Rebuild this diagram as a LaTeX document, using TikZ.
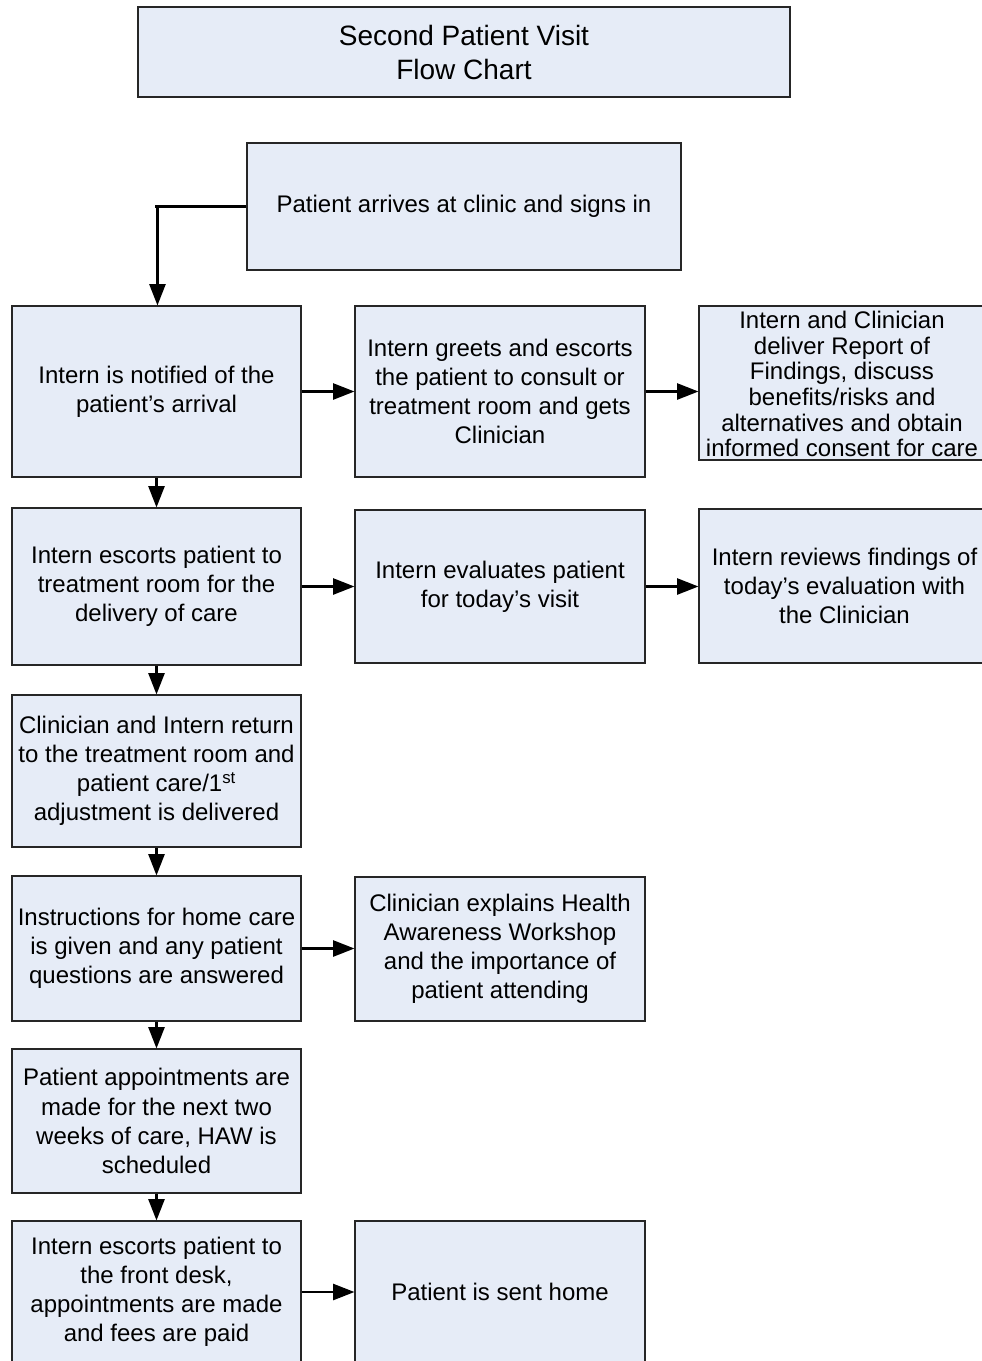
\documentclass[tikz,border=0pt]{standalone}
\usepackage{fontspec}
\setmainfont{Liberation Sans}
\usetikzlibrary{arrows.meta,calc}
\definecolor{boxfill}{HTML}{E6ECF7}
\definecolor{boxline}{HTML}{262626}
\newcommand{\flowbox}[6]{%
  \node[fbox, minimum width={(#4-#2)*0.75pt}, minimum height={(#5-#3)*0.75pt}] (#1) at ({(#2+#4)/2},{(#3+#5)/2}) {#6};}
\begin{document}
\begin{tikzpicture}[x=0.75pt,y=-0.75pt,
  fbox/.style={draw=boxline, line width=0.8pt, fill=boxfill, inner sep=0pt, align=center,
     font=\fontsize{18}{21.8}\selectfont},
  ftext/.style={inner sep=0pt, align=center, font=\fontsize{18}{19.2}\selectfont},
  titlebox/.style={fbox, font=\fontsize{21}{25.5}\selectfont},
  arr/.style={line width=1.8pt, -{Triangle[length=16pt,width=12pt]}},
  conn/.style={line width=1.8pt}]
\useasboundingbox (0,0) rectangle (982,1361);
\clip (0,0) rectangle (982,1361);
\node[titlebox, minimum width={652*0.75pt}, minimum height={90*0.75pt}] (title) at (464,52) {Second Patient Visit\\Flow Chart};
\flowbox{arrive}{247}{143}{681}{270}{Patient arrives at clinic and signs in}
\flowbox{b1}{12}{306}{301}{477}{Intern is notified of the\\patient’s arrival}
\flowbox{b2}{355}{306}{645}{477}{Intern greets and escorts\\the patient to consult or\\treatment room and gets\\Clinician}
\flowbox{b3}{699}{306}{995}{460}{}
\node[ftext, anchor=north] (b3t) at (842,311) {Intern and Clinician\\deliver Report of\\Findings, discuss\\benefits/risks and\\alternatives and obtain\\informed consent for care};
\flowbox{c1}{12}{508}{301}{665}{Intern escorts patient to\\treatment room for the\\delivery of care}
\flowbox{c2}{355}{510}{645}{663}{Intern evaluates patient\\for today’s visit}
\flowbox{c3}{699}{509}{990}{663}{Intern reviews findings of\\today’s evaluation with\\the Clinician}
\flowbox{d1}{12}{695}{301}{847}{Clinician and Intern return\\to the treatment room and\\patient care/1\textsuperscript{st}\\adjustment is delivered}
\flowbox{e1}{12}{876}{301}{1021}{Instructions for home care\\is given and any patient\\questions are answered}
\flowbox{e2}{355}{877}{645}{1021}{Clinician explains Health\\Awareness Workshop\\and the importance of\\patient attending}
\flowbox{f1}{12}{1049}{301}{1193}{Patient appointments are\\made for the next two\\weeks of care, HAW is\\scheduled}
\flowbox{g1}{12}{1221}{301}{1363}{Intern escorts patient to\\the front desk,\\appointments are made\\and fees are paid}
\flowbox{g2}{355}{1221}{645}{1363}{Patient is sent home}
% connectors
\coordinate (bend) at ($(arrive.west)+(-89,0)$);
\draw[conn] (arrive.west) -- ($(bend)+(-2,0)$);
\draw[arr] (bend) -- (bend |- b1.north);
\draw[arr] (b1.east) -- (b1.east -| b2.west);
\draw[arr] (b2.east) -- (b2.east -| b3.west);
\draw[arr] (b1.south) -- (c1.north);
\draw[arr] (c1.east) -- (c1.east -| c2.west);
\draw[arr] (c2.east) -- (c2.east -| c3.west);
\draw[arr] (c1.south) -- (d1.north);
\draw[arr] (d1.south) -- (e1.north);
\draw[arr] (e1.east) -- (e1.east -| e2.west);
\draw[arr] (e1.south) -- (f1.north);
\draw[arr] (f1.south) -- (g1.north);
\draw[arr] (g1.east) -- (g1.east -| g2.west);
\end{tikzpicture}
\end{document}
